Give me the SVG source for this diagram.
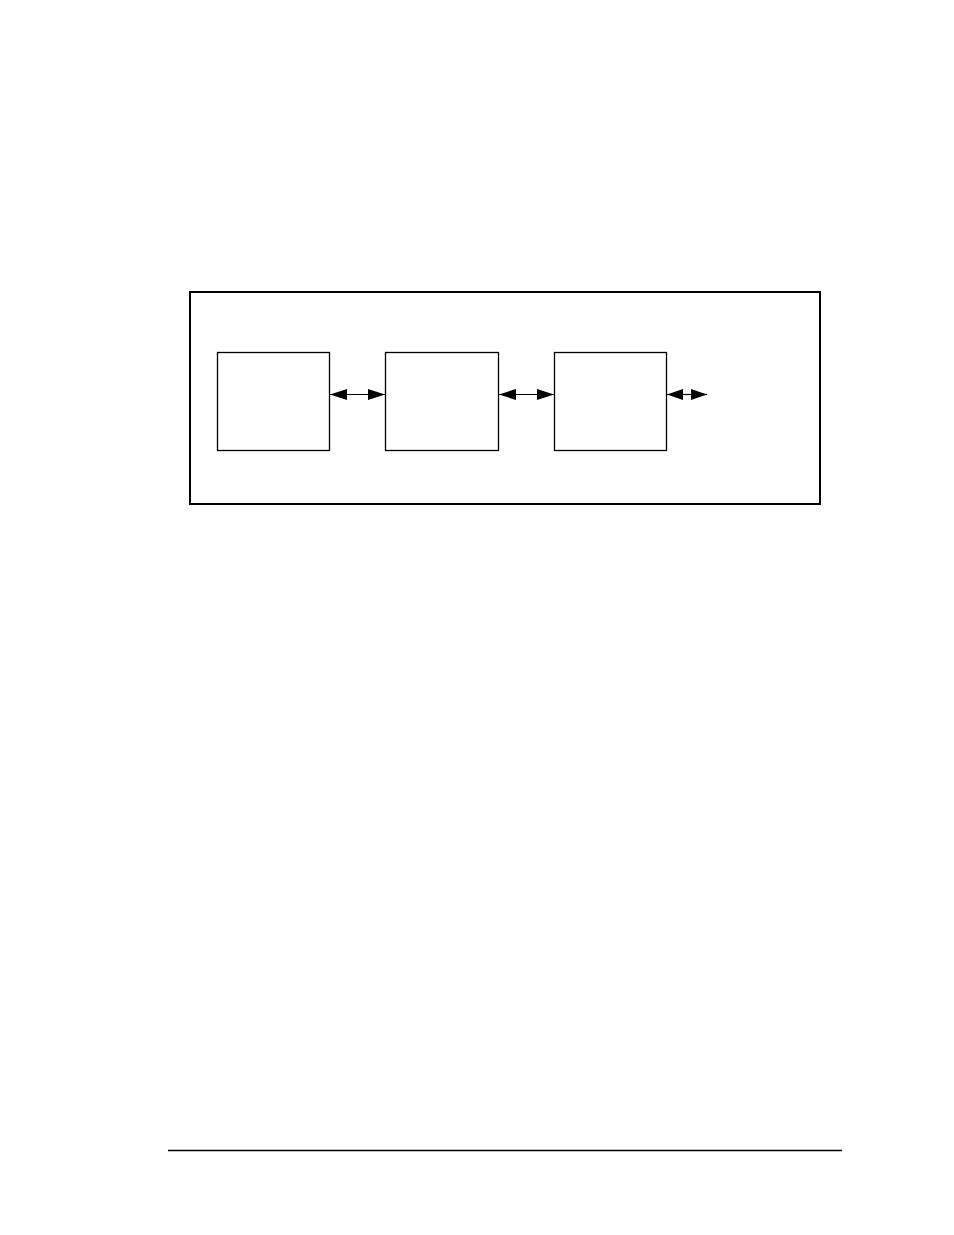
<svg xmlns="http://www.w3.org/2000/svg" width="954" height="1235" viewBox="0 0 954 1235">
<style>
.frame{fill:none;stroke:#000;stroke-width:2}
.node{fill:#fff;stroke:#000;stroke-width:1.3}
.conn{fill:none;stroke:#000;stroke-width:1.2}
.rule{stroke:#000;stroke-width:1.5}
</style>
<defs>
<marker id="ah" markerUnits="userSpaceOnUse" markerWidth="17" markerHeight="11" refX="17" refY="5.5" orient="auto-start-reverse">
<path d="M0,0 L17,5.5 L0,11 Z" fill="#000"/>
</marker>
<marker id="ahs" markerUnits="userSpaceOnUse" markerWidth="16" markerHeight="11" refX="16" refY="5.5" orient="auto-start-reverse">
<path d="M0,0 L16,5.5 L0,11 Z" fill="#000"/>
</marker>
</defs>
<rect width="954" height="1235" fill="#fff"/>
<rect id="frame" class="frame" x="190" y="292" width="630" height="212"/>
<g id="node1"><rect class="node" x="217.5" y="352.5" width="112" height="98"/></g>
<g id="node2"><rect class="node" x="385.5" y="352.5" width="113" height="98"/></g>
<g id="node3"><rect class="node" x="554.5" y="352.5" width="112" height="98"/></g>
<g id="connectors">
<line class="conn" x1="330" y1="394.5" x2="385" y2="394.5" marker-start="url(#ah)" marker-end="url(#ah)"/>
<line class="conn" x1="499" y1="394.5" x2="554" y2="394.5" marker-start="url(#ah)" marker-end="url(#ah)"/>
<line class="conn" x1="667" y1="394.5" x2="683" y2="394.5" marker-start="url(#ahs)"/>
<line class="conn" x1="682" y1="394.5" x2="707" y2="394.5" marker-end="url(#ahs)"/>
</g>
<line id="footer-rule" class="rule" x1="168" y1="1150.5" x2="842" y2="1150.5"/>
</svg>
